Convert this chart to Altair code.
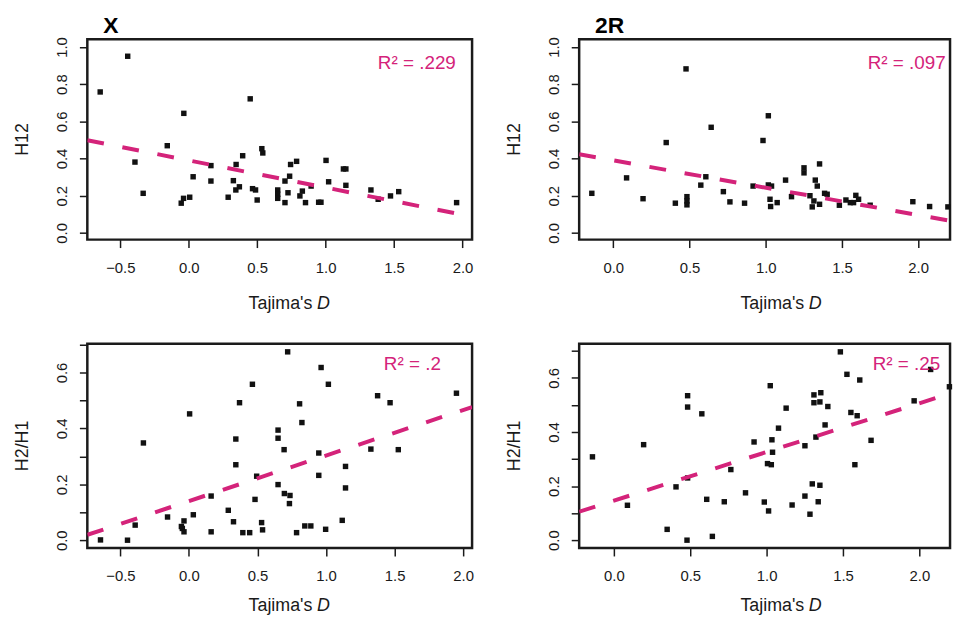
import altair as alt
import pandas as pd

FONT = "Liberation Sans"
PINK = "#d4237a"
INK = "#1a1a1a"

# ---------------- data ----------------
# Panel X, H12
X_h12_D = [-0.647, -0.446, -0.393, -0.333, -0.157, -0.055, -0.038, 0.007, -0.036, 0.032,
           0.162, 0.162, 0.288, 0.326, 0.346, 0.344, 0.370, 0.394, 0.449, 0.466,
           0.488, 0.500, 0.534, 0.541, 0.650, 0.650, 0.650, 0.703, 0.703, 0.725,
           0.737, 0.744, 0.788, 0.812, 0.830, 0.853, 0.894, 0.949, 0.966, 1.003,
           1.022, 1.130, 1.148, 1.148, 1.331, 1.384, 1.474, 1.534, 1.957]
X_h12_V = [0.758, 0.950, 0.381, 0.213, 0.469, 0.160, 0.186, 0.192, 0.643, 0.302,
           0.362, 0.279, 0.192, 0.281, 0.368, 0.231, 0.248, 0.415, 0.721, 0.238,
           0.231, 0.177, 0.453, 0.430, 0.231, 0.208, 0.186, 0.279, 0.163, 0.216,
           0.305, 0.368, 0.385, 0.199, 0.225, 0.163, 0.252, 0.165, 0.165, 0.390,
           0.275, 0.344, 0.344, 0.256, 0.231, 0.181, 0.199, 0.222, 0.163]

# Panel 2R, H12
R_h12_D = [-0.141, 0.087, 0.195, 0.347, 0.407, 0.477, 0.483, 0.483, 0.483, 0.574,
           0.607, 0.642, 0.722, 0.765, 0.861, 0.917, 0.982, 1.017, 1.017, 1.038,
           1.028, 1.032, 1.075, 1.130, 1.169, 1.251, 1.251, 1.290, 1.305, 1.316,
           1.325, 1.338, 1.353, 1.353, 1.386, 1.403, 1.483, 1.526, 1.555, 1.576,
           1.591, 1.609, 1.685, 1.965, 2.075, 2.195]
R_h12_V = [0.213, 0.296, 0.184, 0.486, 0.160, 0.882, 0.195, 0.172, 0.151, 0.257,
           0.302, 0.568, 0.222, 0.167, 0.160, 0.252, 0.497, 0.630, 0.258, 0.252,
           0.181, 0.142, 0.163, 0.284, 0.195, 0.350, 0.323, 0.200, 0.140, 0.172,
           0.284, 0.252, 0.371, 0.154, 0.213, 0.208, 0.149, 0.177, 0.163, 0.163,
           0.202, 0.181, 0.149, 0.168, 0.142, 0.140]

# Panel X, H2/H1
X_h21_D = [-0.645, -0.448, -0.392, -0.332, -0.156, -0.036, -0.055, -0.048, -0.036, 0.005,
           0.032, 0.162, 0.162, 0.287, 0.325, 0.342, 0.342, 0.369, 0.393, 0.443,
           0.463, 0.482, 0.494, 0.530, 0.537, 0.650, 0.650, 0.650, 0.694, 0.696,
           0.720, 0.737, 0.733, 0.785, 0.807, 0.824, 0.845, 0.889, 0.947, 0.947,
           0.964, 0.997, 1.017, 1.118, 1.142, 1.142, 1.327, 1.376, 1.467, 1.527,
           1.951]
X_h21_V = [0.001, 0.000, 0.054, 0.348, 0.083, 0.069, 0.049, 0.042, 0.030, 0.452,
           0.091, 0.158, 0.030, 0.107, 0.066, 0.270, 0.362, 0.492, 0.027, 0.027,
           0.558, 0.146, 0.229, 0.063, 0.037, 0.394, 0.365, 0.199, 0.324, 0.167,
           0.674, 0.160, 0.131, 0.027, 0.488, 0.421, 0.051, 0.051, 0.312, 0.232,
           0.618, 0.039, 0.558, 0.071, 0.264, 0.187, 0.326, 0.517, 0.492, 0.324,
           0.526]

# Panel 2R, H2/H1
R_h21_D = [-0.140, 0.089, 0.195, 0.349, 0.407, 0.483, 0.483, 0.483, 0.479, 0.576,
           0.608, 0.645, 0.723, 0.766, 0.862, 0.918, 0.985, 1.013, 1.024, 1.006,
           1.031, 1.035, 1.039, 1.078, 1.128, 1.167, 1.251, 1.251, 1.284, 1.299,
           1.349, 1.338, 1.310, 1.355, 1.310, 1.349, 1.323, 1.383, 1.401, 1.483,
           1.526, 1.552, 1.578, 1.593, 1.610, 1.684, 1.966, 2.074, 2.197]
R_h21_V = [0.308, 0.129, 0.353, 0.040, 0.197, 0.534, 0.492, 0.230, 0.000, 0.467,
           0.151, 0.014, 0.142, 0.261, 0.175, 0.363, 0.141, 0.108, 0.571, 0.283,
           0.279, 0.371, 0.325, 0.414, 0.488, 0.130, 0.163, 0.349, 0.096, 0.208,
           0.203, 0.142, 0.537, 0.545, 0.508, 0.511, 0.381, 0.426, 0.494, 0.696,
           0.613, 0.472, 0.279, 0.460, 0.592, 0.369, 0.515, 0.631, 0.567]

# regression lines: intercept, slope
fit_intercepts = [0.390, 0.390, 0.140, 0.146]
fit_slopes = [-0.146, -0.147, 0.163, 0.180]
r2_labels = ["R\u00b2 = .229", "R\u00b2 = .097", "R\u00b2 = .2", "R\u00b2 = .25"]
panel_titles = ["X", "2R", "", ""]
y_titles = ["H12", "H12", "H2/H1", "H2/H1"]

x_ticks_X = [-0.5, 0.0, 0.5, 1.0, 1.5, 2.0]
x_ticks_R = [0.0, 0.5, 1.0, 1.5, 2.0]
y_ticks_top = [0.0, 0.2, 0.4, 0.6, 0.8, 1.0]
y_ticks_bot = [0.0, 0.1, 0.2, 0.3, 0.4, 0.5, 0.6, 0.7]


def panel(D, V, a, b, xdom, ydom, xticks, yticks, every_other, ytitle, r2, title,
          W, H, r2x, r2y, xt_base):
    xs = alt.Scale(domain=xdom, nice=False, zero=False)
    ys = alt.Scale(domain=ydom, nice=False, zero=False)
    common = dict(title=None, grid=False, domain=False, tickSize=8, tickWidth=1.5,
                  tickColor=INK, labelFont=FONT, labelFontSize=15, labelColor=INK,
                  labelOverlap=False, labelFlush=False)
    xaxis = alt.Axis(values=xticks, format=".1f", labelPadding=13, **common)
    if every_other:
        lab = "round(datum.value*10) % 2 == 0 ? format(datum.value, '.1f') : ''"
    else:
        lab = "format(datum.value, '.1f')"
    yaxis = alt.Axis(values=yticks, labelExpr=lab, labelAngle=270, labelAlign="center",
                     labelBaseline="alphabetic", labelPadding=13, **common)

    pts = pd.DataFrame({"D": D, "V": V})
    points = alt.Chart(pts).mark_square(size=30, color="#111111", opacity=1).encode(
        x=alt.X("D:Q", scale=xs, axis=xaxis),
        y=alt.Y("V:Q", scale=ys, axis=yaxis),
    )
    ldf = pd.DataFrame({"D": [xdom[0], xdom[1]], "V": [a + b * xdom[0], a + b * xdom[1]]})
    line = alt.Chart(ldf).mark_line(color=PINK, strokeWidth=4, strokeDash=[17, 19],
                                    strokeCap="butt", clip=True).encode(
        x=alt.X("D:Q", scale=xs, axis=xaxis),
        y=alt.Y("V:Q", scale=ys, axis=yaxis),
    )
    one = pd.DataFrame({"k": [0]})
    r2t = alt.Chart(one).mark_text(text=r2, font=FONT, fontSize=19, color=PINK,
                                   align="left", baseline="alphabetic").encode(
        x=alt.value(r2x), y=alt.value(r2y))
    yt = alt.Chart(one).mark_text(text=ytitle, font=FONT, fontSize=18, color=INK,
                                  angle=270, align="center", baseline="middle").encode(
        x=alt.value(-64.5), y=alt.value(H / 2))
    xt1 = alt.Chart(one).mark_text(text="Tajima's", font=FONT, fontSize=18, color=INK,
                                   align="right", baseline="alphabetic").encode(
        x=alt.value(227), y=alt.value(H + xt_base))
    xt2 = alt.Chart(one).mark_text(text="D", font=FONT, fontSize=18, fontStyle="italic",
                                   color=INK, align="left", baseline="alphabetic").encode(
        x=alt.value(231.5), y=alt.value(H + xt_base))
    layers = [points, line, r2t, yt, xt1, xt2]
    if title:
        tt = alt.Chart(one).mark_text(text=title, font=FONT, fontSize=23, fontWeight="bold",
                                      color="#000000", align="left", baseline="alphabetic").encode(
            x=alt.value(16), y=alt.value(-6))
        layers.append(tt)
    return alt.layer(*layers).properties(width=W, height=H)


p1 = panel(X_h12_D, X_h12_V, fit_intercepts[0], fit_slopes[0], [-0.741, 2.07], [-0.036, 1.041],
           x_ticks_X, y_ticks_top, False, y_titles[0], r2_labels[0], panel_titles[0],
           388, 202, 293, 30, 70)
p2 = panel(R_h12_D, R_h12_V, fit_intercepts[1], fit_slopes[1], [-0.224, 2.209], [-0.036, 1.041],
           x_ticks_R, y_ticks_top, False, y_titles[1], r2_labels[1], panel_titles[1],
           374, 202, 291, 30, 70)
p3 = panel(X_h21_D, X_h21_V, fit_intercepts[2], fit_slopes[2], [-0.741, 2.065], [-0.028, 0.703],
           x_ticks_X, y_ticks_bot, True, y_titles[2], r2_labels[2], panel_titles[2],
           388, 206, 299, 26.5, 64)
p4 = panel(R_h21_D, R_h21_V, fit_intercepts[3], fit_slopes[3], [-0.227, 2.201], [-0.029, 0.726],
           x_ticks_R, y_ticks_bot, True, y_titles[3], r2_labels[3], panel_titles[3],
           374, 206, 296, 26.5, 64)

row1 = alt.hconcat(p1, p2, spacing=30)
row2 = alt.hconcat(p3, p4, spacing=30)
chart = alt.vconcat(row1, row2, spacing=27).properties(
    padding={"left": 5, "top": 3, "right": 0, "bottom": 0}
).configure_view(stroke="#1b1b1b", strokeWidth=2.5)

chart.save("out.html", embed_options={"renderer": "svg", "actions": False})
